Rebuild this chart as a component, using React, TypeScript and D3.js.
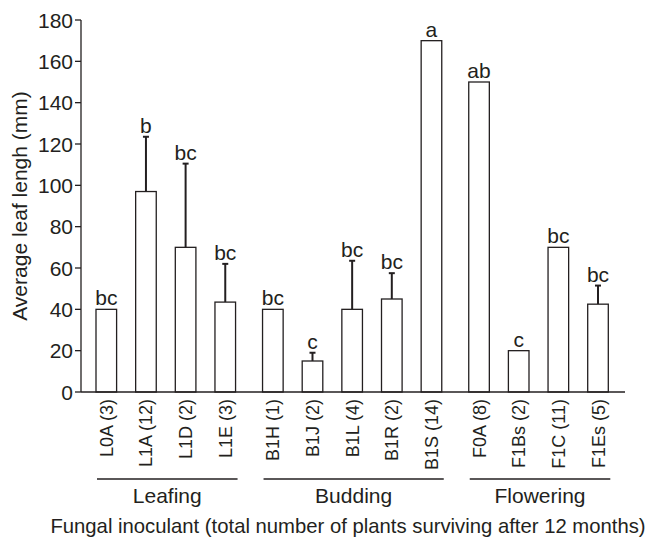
import React from "react";
import * as d3 from "d3";

// values
const categories = [
  "L0A (3)", "L1A (12)", "L1D (2)", "L1E (3)",
  "B1H (1)", "B1J (2)", "B1L (4)", "B1R (2)", "B1S (14)",
  "F0A (8)", "F1Bs (2)", "F1C (11)", "F1Es (5)",
];
const groupOf = [0, 0, 0, 0, 1, 1, 1, 1, 1, 2, 2, 2, 2];
const groups = ["Leafing", "Budding", "Flowering"];
const means = [40, 97, 70, 43.5, 40, 15, 40, 45, 170, 150, 20, 70, 42.5];
const errTop = [null, 123.5, 110.5, 62, null, 19, 63.5, 57.5, null, null, null, null, 51.5];
const letters = ["bc", "b", "bc", "bc", "bc", "c", "bc", "bc", "a", "ab", "c", "bc", "bc"];
const yTicks = [0, 20, 40, 60, 80, 100, 120, 140, 160, 180];

const FONT = "'Liberation Sans', Arial, Helvetica, sans-serif";
const INK = "#231f20";

export default function App() {
  const width = 661;
  const height = 539;
  const axisX = 81;
  const axisEnd = 625;

  const y = d3.scaleLinear().domain([0, 180]).range([392, 20]);
  // slot position: bar index plus a small gap between growth stages
  const slot = (i: number) => i + groupOf[i] * 0.2;
  const x = d3.scaleLinear().domain([0, 12.4]).range([106.3, 598]);
  const barW = 20.6;

  return (
    <svg width={width} height={height} style={{ position: "absolute", left: 0, top: 0 }}
      fontFamily={FONT}>
      <rect width={width} height={height} fill="#fff" />

      {/* y axis */}
      <line x1={axisX} x2={axisX} y1={y(180)} y2={y(0)} stroke={INK} strokeWidth={1.3} />
      {yTicks.map((t) => (
        <g key={t}>
          <line x1={axisX - 6} x2={axisX} y1={y(t)} y2={y(t)} stroke={INK} strokeWidth={1.3} />
          <text x={axisX - 8} y={y(t)} dy="0.36em" textAnchor="end" fontSize={21} fill={INK}>
            {t}
          </text>
        </g>
      ))}
      <text transform={`translate(27,206) rotate(-90)`}
        textAnchor="middle" fontSize={21} fill={INK}>
        Average leaf lengh (mm)
      </text>

      {/* bars */}
      {categories.map((c, i) => {
        const cx = x(slot(i));
        const top = y(means[i]);
        const e = errTop[i];
        const labelBase = e != null ? y(e) : top;
        return (
          <g key={c}>
            {e != null && (
              <g stroke={INK} strokeWidth={2}>
                <line x1={cx} x2={cx} y1={top} y2={y(e)} />
                <line x1={cx - 3} x2={cx + 3} y1={y(e)} y2={y(e)} />
              </g>
            )}
            <rect x={cx - barW / 2} y={top} width={barW} height={y(0) - top}
              fill="#fff" stroke={INK} strokeWidth={1.3} />
            <text x={cx} y={labelBase - 4} textAnchor="middle" fontSize={21} fill={INK}>
              {letters[i]}
            </text>
            <text transform={`translate(${cx + 6.5},399) rotate(-90)`} textAnchor="end"
              fontSize={18} fill={INK}>
              {c}
            </text>
          </g>
        );
      })}

      {/* x axis */}
      <line x1={axisX} x2={axisEnd} y1={y(0)} y2={y(0)} stroke={INK} strokeWidth={1.3} />

      {/* growth stage groups */}
      {groups.map((g, gi) => {
        const idx = d3.range(categories.length).filter((i) => groupOf[i] === gi);
        const x0 = x(slot(idx[0])) - barW / 2 + 1;
        const x1 = x(slot(idx[idx.length - 1])) + barW / 2 + 2;
        return (
          <g key={g}>
            <line x1={x0} x2={x1} y1={479} y2={479} stroke={INK} strokeWidth={1.3} />
            <text x={(x0 + x1) / 2} y={503} textAnchor="middle" fontSize={21} fill={INK}>
              {g}
            </text>
          </g>
        );
      })}

      <text x={348} y={533} textAnchor="middle" fontSize={20.3} fill={INK}>
        Fungal inoculant (total number of plants surviving after 12 months)
      </text>
    </svg>
  );
}
